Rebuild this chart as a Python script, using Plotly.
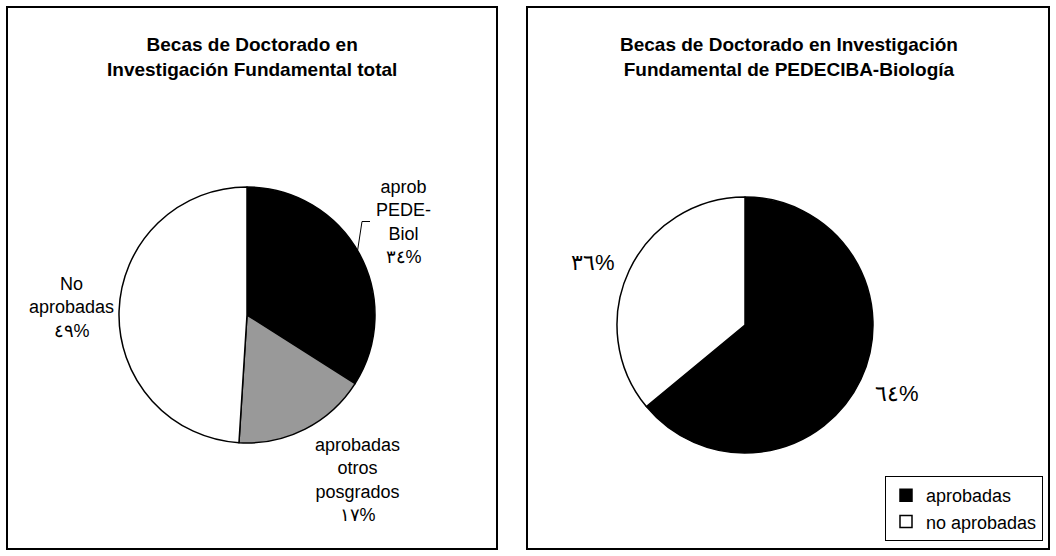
import plotly.graph_objects as go

# ---------------- data ----------------
left_title = "Becas de Doctorado en<br>Investigación Fundamental total"
left_categories = ["aprob PEDE-Biol", "aprobadas otros posgrados", "No aprobadas"]
left_label_lines = [["aprob", "PEDE-", "Biol"], ["aprobadas", "otros", "posgrados"], ["No", "aprobadas"]]
left_values = [34, 17, 49]
left_colors = ["#000000", "#999999", "#FFFFFF"]

right_title = "Becas de Doctorado en Investigación<br>Fundamental de PEDECIBA-Biología"
right_categories = ["aprobadas", "no aprobadas"]
right_values = [64, 36]
right_colors = ["#000000", "#FFFFFF"]

W, H = 1056, 556
AR = str.maketrans("0123456789", "٠١٢٣٤٥٦٧٨٩")


def pct(v):
    return str(v).translate(AR) + "%"


def px_dom(cx, cy, r):
    return dict(x=[(cx - r) / W, (cx + r) / W], y=[1 - (cy + r) / H, 1 - (cy - r) / H])


def P(x, y):
    return x / W, 1 - y / H


fig = go.Figure()
fig.add_trace(go.Pie(
    labels=left_categories, values=left_values, sort=False, direction="clockwise",
    rotation=0, textinfo="none", showlegend=False, hoverinfo="label+percent",
    marker=dict(colors=left_colors, line=dict(color="black", width=1.5)),
    domain=px_dom(247, 315, 128),
))
fig.add_trace(go.Pie(
    labels=right_categories, values=right_values, sort=False, direction="clockwise",
    rotation=0, textinfo="none", showlegend=True, hoverinfo="label+percent",
    marker=dict(colors=right_colors, line=dict(color="black", width=1.5)),
    domain=px_dom(745, 325, 128),
))

FAM = "Liberation Sans, Arial, sans-serif"
lab_font = dict(family=FAM, size=18, color="black")
ann = []


def add_text(x, y, text, font):
    px, py = P(x, y)
    ann.append(dict(x=px, y=py, text=text, showarrow=False, xref="paper", yref="paper",
                    xanchor="center", yanchor="middle", align="center", font=font))


# titles
title_font = dict(family=FAM, size=19, color="black")
add_text(252, 57, "<b>" + left_title + "</b>", title_font)
add_text(789, 57, "<b>" + right_title + "</b>", title_font)

# left labels (centres in pixels)
left_label_pos = [(403, 222), (357, 480), (71, 307)]
for lines, v, (lx, ly) in zip(left_label_lines, left_values, left_label_pos):
    add_text(lx, ly, "<br>".join(lines + [pct(v)]), lab_font)

# right labels
right_label_pos = [(897, 393), (593, 262)]
for v, (lx, ly) in zip(right_values, right_label_pos):
    add_text(lx, ly, pct(v), dict(family=FAM, size=22, color="black"))

shapes = []
for (x0, y0, x1, y1) in [(7, 7, 497, 549), (527, 7, 1049, 549)]:
    a, b = P(x0, y1)
    c, d = P(x1, y0)
    shapes.append(dict(type="rect", xref="paper", yref="paper", x0=a, y0=b, x1=c, y1=d,
                       line=dict(color="black", width=2), fillcolor="rgba(0,0,0,0)", layer="above"))
# leader line for black slice of left pie
p1 = P(370, 221.5)
p2 = P(362, 221.5)
p3 = P(357.5, 251)
shapes.append(dict(type="path", xref="paper", yref="paper",
                   path=f"M {p1[0]} {p1[1]} L {p2[0]} {p2[1]} L {p3[0]} {p3[1]}",
                   line=dict(color="black", width=1)))

fig.update_layout(
    width=W, height=H, margin=dict(l=0, r=0, t=0, b=0),
    paper_bgcolor="white", plot_bgcolor="white",
    annotations=ann, shapes=shapes,
    legend=dict(x=1043 / W, y=1 - 541 / H, xanchor="right", yanchor="bottom",
                bordercolor="black", borderwidth=1, bgcolor="white",
                font=dict(family=FAM, size=18, color="black"),
                itemclick=False, itemdoubleclick=False),
)
fig.write_html("out.html", config={"displayModeBar": False},
               post_script="document.body.style.margin='0';")
